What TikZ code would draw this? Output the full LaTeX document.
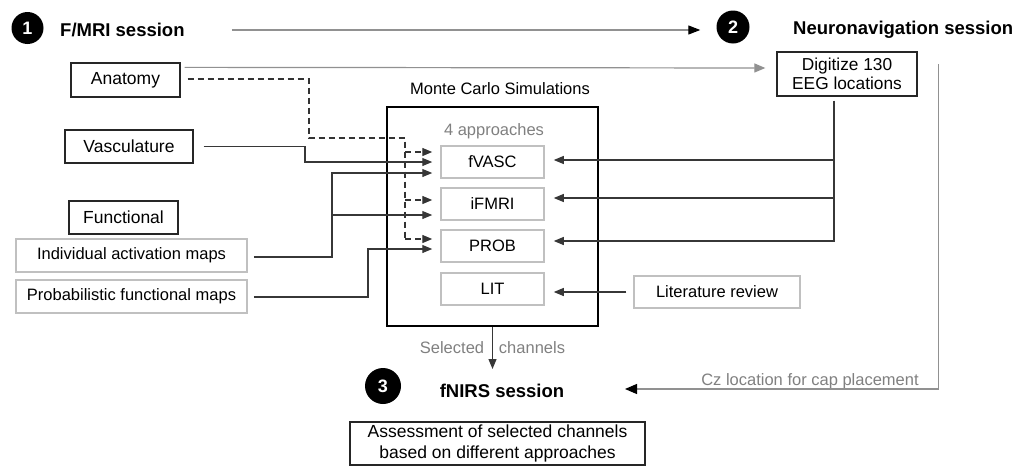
\documentclass[tikz,border=0pt]{standalone}
\usepackage{fontspec}
\setmainfont{Liberation Sans}
\usetikzlibrary{arrows.meta,calc}
\definecolor{lineclr}{RGB}{55,55,55}
\definecolor{lightbox}{RGB}{192,192,192}
\definecolor{softline}{RGB}{145,145,145}
\definecolor{labelgray}{RGB}{128,128,128}

\begin{document}
\begin{tikzpicture}[x=1pt,y=-1pt,
  txt/.style={font=\fontsize{16.5}{21}\selectfont, inner sep=0pt},
  head/.style={font=\fontsize{18.5}{22}\selectfont\bfseries, inner sep=0pt},
  numdot/.style={circle, fill=black, text=white, inner sep=0pt,
    minimum size=32pt, font=\fontsize{18}{20}\selectfont\bfseries},
  darkbox/.style={txt, font=\fontsize{17.5}{21}\selectfont, draw=black!85, line width=1.3pt},
  palebox/.style={txt, draw=lightbox, line width=1.5pt},
  tip/.style={-{Triangle[length=10pt,width=8pt]}},
  plain/.style={draw=lineclr, line width=1.2pt},
  link/.style={plain, tip},
  dashln/.style={draw=black!80, line width=1.4pt, dash pattern=on 6pt off 4pt},
  dashlink/.style={dashln, tip},
  softlink/.style={draw=softline, line width=1.2pt,
    -{Triangle[length=12pt,width=9pt,color=black]}},
  palelink/.style={draw=softline, line width=1.2pt,
    -{Triangle[length=11pt,width=9pt,color=softline]}},
]
\useasboundingbox (0,0) rectangle (1017,466);

% session headings
\node[numdot] (n1) at (27.5,28) {1};
\node[head, anchor=west] (t1) at (60,30) {F/MRI session};
\node[numdot, minimum size=33pt] (n2) at (733,27) {2};
\node[head, anchor=west] (t2) at (793,30) {Neuronavigation session};
\node[numdot, minimum size=36pt] (n3) at (383,386) {3};
\node[head] (t3) at (502,391) {fNIRS session};

% MRI inputs
\node[darkbox, minimum width=109pt, minimum height=34pt] (anat) at (125.5,80) {Anatomy};
\node[darkbox, minimum width=128pt, minimum height=33pt] (vasc) at (129,146.5) {Vasculature};
\node[darkbox, minimum width=109pt, minimum height=33pt] (func) at (123.5,217.5) {Functional};
\node[palebox, minimum width=231pt, minimum height=33pt] (indiv) at (131.5,255.5) {Individual activation maps};
\node[palebox, minimum width=231pt, minimum height=33pt] (prob) at (131.5,296.5) {Probabilistic functional maps};

% neuronavigation
\node[darkbox, minimum width=140pt, minimum height=44pt, align=center,
  font=\fontsize{17.3}{19.5}\selectfont] (digit) at (847,74) {Digitize 130\\EEG locations};

% simulations
\node[draw=black, line width=2pt, minimum width=211pt, minimum height=219pt] (mc) at (492.5,216.5) {};
\node[txt] (mctitle) at (500,89) {Monte Carlo Simulations};
\node[txt, text=labelgray] (appr) at (494,131) {4 approaches};
\node[palebox, minimum width=103pt, minimum height=32pt] (fvasc) at (492.5,162) {fVASC};
\node[palebox, minimum width=103pt, minimum height=32pt] (ifmri) at (492.5,204) {iFMRI};
\node[palebox, minimum width=103pt, minimum height=32pt] (probb) at (492.5,246) {PROB};
\node[palebox, minimum width=103pt, minimum height=32pt] (lit) at (492.5,289) {LIT};
\node[palebox, minimum width=166pt, minimum height=32pt] (litrev) at (717,292) {Literature review};

% fNIRS outcome
\node[darkbox, minimum width=295pt, minimum height=43pt, align=center] (assess) at (497.5,443.5)
  {Assessment of selected channels\\based on different approaches};
\node[txt, text=labelgray] (sel) at (452,348) {Selected};
\node[txt, text=labelgray] (chan) at (532,348) {channels};
\node[txt, text=labelgray] (cz) at (810,381) {Cz location for cap placement};

% junction points
\coordinate (dashcorner) at (309,138);
\coordinate (dashtop) at (405,138);
\coordinate (dashbot) at (405,239);
\coordinate (vascbend) at (305,146.5);
\coordinate (indivbend) at (332,173);
\coordinate (indivsplit) at (332,215);
\coordinate (probbend) at (368,249);
\coordinate (navsplitA) at (834,160);
\coordinate (navsplitB) at (834,198);
\coordinate (czend) at (625,389);

% timeline between sessions
\draw[softlink] ($(t1.east)+(47,0)$) -- ($(n2.west)+(-16,3)$);

% anatomy to digitisation
\draw[palelink] ($(anat.north east)+(4,5)$) -- ($(digit.west)+(-11,-6)$);

% anatomy (dashed) into three approaches
\draw[dashln] ($(anat.east)+(7,-1)$) -| (dashcorner) -- (dashtop) -- (dashbot);
\draw[dashlink] (405,152) -- ($(fvasc.west)+(-8,-10)$);
\draw[dashlink] (405,200) -- ($(ifmri.west)+(-8,-4)$);
\draw[dashlink] (dashbot) -- ($(probb.west)+(-8,-7)$);

% vasculature
\draw[link] ($(vasc.east)+(10,0)$) -- (vascbend) |- ($(fvasc.west)+(-8,0)$);

% individual activation maps
\draw[link] ($(indiv.east)+(6,1.5)$) -| (indivbend) -- ($(fvasc.west)+(-8,11)$);
\draw[link] (indivsplit) -- ($(ifmri.west)+(-8,11)$);

% probabilistic maps
\draw[link] ($(prob.east)+(6,0.5)$) -| (probbend) -- ($(probb.west)+(-8,3)$);

% digitised locations into approaches
\draw[link] ($(digit.south)+(-13,4)$) |- ($(probb.east)+(9,-5)$);
\draw[link] (navsplitA) -- ($(fvasc.east)+(9,-2)$);
\draw[link] (navsplitB) -- ($(ifmri.east)+(9,-6)$);

% literature review
\draw[link] ($(litrev.west)+(-7,0)$) -- ($(lit.east)+(9,3)$);

% selected channels
\draw[link] (mc.south) -- ($(mc.south)+(0,42)$);

% Cz location
\draw[draw=softline, line width=1.2pt, -{Triangle[length=12pt,width=10pt,color=black]}]
  ($(digit.east)+(21,-10)$) |- (czend);
\end{tikzpicture}
\end{document}
